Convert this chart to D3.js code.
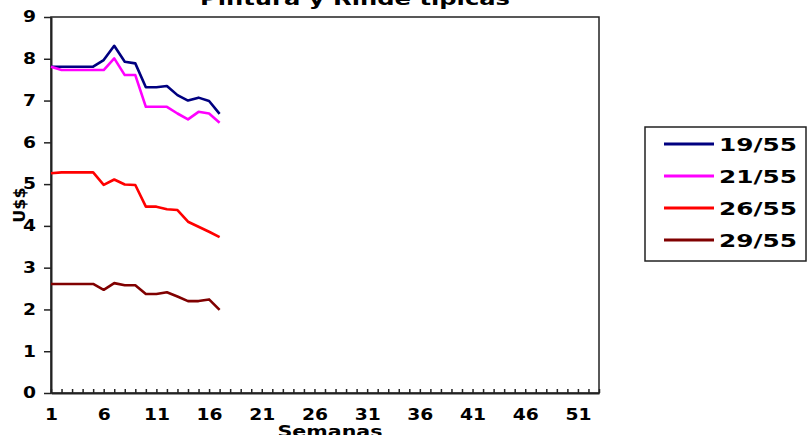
<!DOCTYPE html>
<html>
<head>
<meta charset="utf-8">
<script src="https://cdn.jsdelivr.net/npm/d3@7"></script>
<style>
  body { margin: 0; background: #fff; }
  svg text { font-family: "DejaVu Sans", Verdana, sans-serif; font-weight: bold; fill: #000; }
</style>
</head>
<body>
<div id="chart"></div>
<script>
// Data
const weeks = [1, 2, 3, 4, 5, 6, 7, 8, 9, 10, 11, 12, 13, 14, 15, 16, 17];
const seriesNames = ["19/55", "21/55", "26/55", "29/55"];
const s19 = [7.81, 7.81, 7.81, 7.81, 7.81, 7.97, 8.31, 7.93, 7.89, 7.32, 7.32, 7.35, 7.13, 7.00, 7.07, 6.99, 6.68];
const s21 = [7.81, 7.73, 7.73, 7.73, 7.73, 7.73, 8.01, 7.61, 7.61, 6.85, 6.85, 6.85, 6.69, 6.55, 6.73, 6.69, 6.47];
const s26 = [5.26, 5.28, 5.28, 5.28, 5.28, 4.98, 5.11, 4.99, 4.98, 4.46, 4.46, 4.40, 4.38, 4.10, 3.98, 3.86, 3.73];
const s29 = [2.61, 2.61, 2.61, 2.61, 2.61, 2.47, 2.63, 2.58, 2.58, 2.37, 2.37, 2.41, 2.31, 2.20, 2.20, 2.24, 1.99];
const xTickLabels = [1, 6, 11, 16, 21, 26, 31, 36, 41, 46, 51];
const yTickLabels = [0, 1, 2, 3, 4, 5, 6, 7, 8, 9];
const colors = ["#000080", "#ff00ff", "#ff0000", "#800000"];

// Config
const width = 807;
const height = 435;
const plot = { left: 51, right: 599, top: 17, bottom: 393 };

const svg = d3.select("#chart").append("svg")
    .attr("width", width)
    .attr("height", height);

const x = d3.scaleLinear().domain([1, 53]).range([plot.left, plot.right]);
const y = d3.scaleLinear().domain([0, 9]).range([plot.bottom, plot.top]);

// Plot area border
svg.append("rect")
    .attr("x", plot.left).attr("y", plot.top)
    .attr("width", plot.right - plot.left).attr("height", plot.bottom - plot.top)
    .attr("fill", "none").attr("stroke", "#222").attr("stroke-width", 1.5);

// Y axis
const yAxis = svg.append("g")
    .attr("transform", `translate(${plot.left},0)`)
    .call(d3.axisLeft(y).tickValues(yTickLabels).tickSize(7).tickSizeOuter(0).tickPadding(8));
yAxis.select(".domain").attr("stroke", "#222").attr("stroke-width", 2);
yAxis.selectAll(".tick line").attr("stroke", "#222").attr("stroke-width", 1.5);
yAxis.selectAll(".tick text")
    .attr("font-size", 15)
    .attr("textLength", d => 13 * String(d).length)
    .attr("lengthAdjust", "spacingAndGlyphs");

// X axis
const xAxis = svg.append("g")
    .attr("transform", `translate(0,${plot.bottom})`)
    .call(d3.axisBottom(x).tickValues(d3.range(1, 54)).tickSize(-4).tickSizeOuter(0)
        .tickFormat(d => xTickLabels.includes(d) ? d : ""));
xAxis.select(".domain").attr("stroke", "#222").attr("stroke-width", 2);
xAxis.selectAll(".tick line").attr("stroke", "#222").attr("stroke-width", 1.5);
xAxis.selectAll(".tick text")
    .attr("y", 15.5)
    .attr("font-size", 16)
    .attr("textLength", d => xTickLabels.includes(d) ? 13 * String(d).length : null)
    .attr("lengthAdjust", "spacingAndGlyphs");

// Lines
const allSeries = [s19, s21, s26, s29];
const line = d3.line()
    .x((d, i) => x(weeks[i]))
    .y(d => y(d));

svg.append("g").selectAll("path")
    .data(allSeries)
    .join("path")
    .attr("d", d => line(d))
    .attr("fill", "none")
    .attr("stroke", (d, i) => colors[i])
    .attr("stroke-width", 2.6)
    .attr("stroke-linejoin", "round");

// Titles
svg.append("text")
    .attr("x", 355).attr("y", 5)
    .attr("text-anchor", "middle")
    .attr("font-size", 18)
    .attr("textLength", 310)
    .attr("lengthAdjust", "spacingAndGlyphs")
    .text("Pintura y Rinde típicas");

svg.append("text")
    .attr("x", 330).attr("y", 437)
    .attr("text-anchor", "middle")
    .attr("font-size", 16)
    .attr("textLength", 105)
    .attr("lengthAdjust", "spacingAndGlyphs")
    .text("Semanas");

svg.append("text")
    .attr("transform", "translate(25,205) rotate(-90)")
    .attr("text-anchor", "middle")
    .attr("font-size", 16)
    .text("U$$");

// Legend
const legend = svg.append("g");
legend.append("rect")
    .attr("x", 645).attr("y", 127)
    .attr("width", 161).attr("height", 134)
    .attr("fill", "#fff").attr("stroke", "#222").attr("stroke-width", 1.5);

const rowY = d3.scalePoint().domain(seriesNames).range([144, 240]);
const items = legend.selectAll(".item")
    .data(seriesNames)
    .join("g")
    .attr("class", "item")
    .attr("transform", d => `translate(0,${rowY(d)})`);

items.append("line")
    .attr("x1", 664).attr("x2", 714)
    .attr("stroke", (d, i) => colors[i])
    .attr("stroke-width", 3);

items.append("text")
    .attr("x", 719).attr("y", 6.5)
    .attr("font-size", 18)
    .attr("textLength", 78)
    .attr("lengthAdjust", "spacingAndGlyphs")
    .text(d => d);
</script>
</body>
</html>
